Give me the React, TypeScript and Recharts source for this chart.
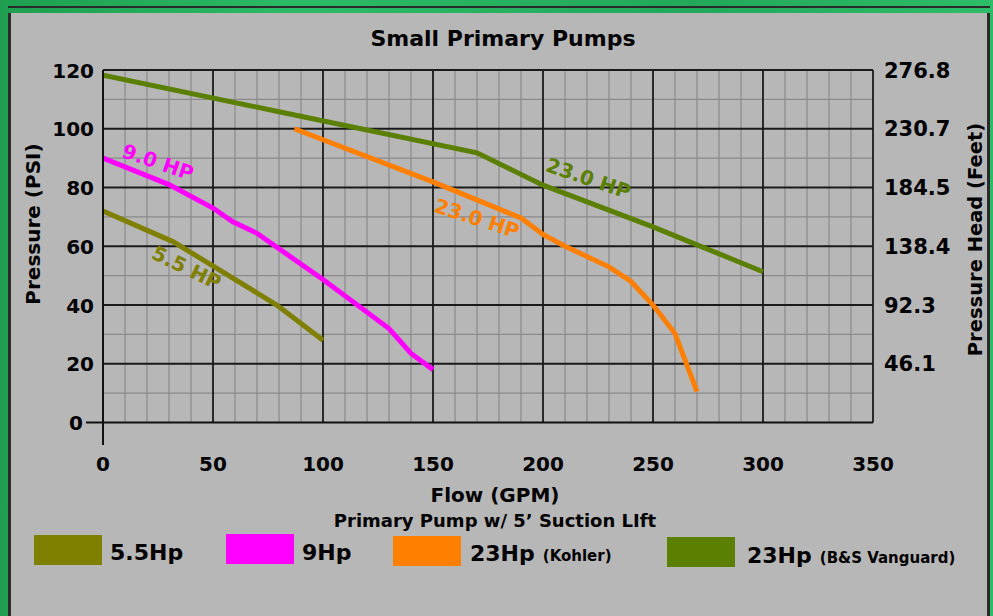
import React from "react";
import {
  LineChart,
  Line,
  XAxis,
  YAxis,
  ReferenceLine,
  ReferenceDot,
} from "recharts";

// flow (GPM) / pressure (PSI)
const flow55 = [0, 32, 79, 100];
const psi55 = [72, 61.5, 40, 28];

const flow9 = [0, 30, 50, 59, 70, 100, 130, 140, 150];
const psi9 = [90, 81, 73, 68.3, 64.4, 48.7, 32, 23.5, 18];

const flowKohler = [87, 150, 190, 200, 210, 230, 240, 250, 260, 270];
const psiKohler = [100, 81.9, 69.6, 64, 60, 53, 48, 40, 30.3, 10.5];

const flowVanguard = [0, 80, 170, 200, 250, 300];
const psiVanguard = [118.2, 105.8, 91.8, 80.8, 66.6, 51.3];

const flowTicks = [0, 50, 100, 150, 200, 250, 300, 350];
const psiTicks = [0, 20, 40, 60, 80, 100, 120];
const headTicks = [20, 40, 60, 80, 100, 120];
const headLabels = ["46.1", "92.3", "138.4", "184.5", "230.7", "276.8"];

const minorFlow = [10, 20, 30, 40, 60, 70, 80, 90, 110, 120, 130, 140, 160, 170, 180, 190, 210, 220, 230, 240, 260, 270, 280, 290, 310, 320, 330, 340];
const minorPsi = [10, 30, 50, 70, 90, 110];
const majorFlow = [50, 100, 150, 200, 250, 300, 350];
const majorPsi = [20, 40, 60, 80, 100, 120];

const zip = (xs: number[], ys: number[]) => xs.map((x, i) => ({ flow: x, psi: ys[i] }));

const series = [
  { key: "s55", name: "5.5Hp", sub: "", color: "#7f7f00", data: zip(flow55, psi55) },
  { key: "s9", name: "9Hp", sub: "", color: "#ff00ff", data: zip(flow9, psi9) },
  { key: "kohler", name: "23Hp", sub: "(Kohler)", color: "#ff7f00", data: zip(flowKohler, psiKohler) },
  { key: "vanguard", name: "23Hp", sub: "(B&S Vanguard)", color: "#5b7f00", data: zip(flowVanguard, psiVanguard) },
];

// curve captions, placed in data units
const captions = [
  { text: "9.0 HP", flow: 25, psi: 88.6, angle: 19, color: "#ff00ff" },
  { text: "5.5 HP", flow: 38, psi: 52.7, angle: 26, color: "#7f7f00" },
  { text: "23.0 HP", flow: 170, psi: 69.5, angle: 18, color: "#ff7f00" },
  { text: "23.0 HP", flow: 220.6, psi: 83.1, angle: 19, color: "#5b7f00" },
];

const FONT = "'DejaVu Sans', sans-serif";

// legend layout
const legendPos = [
  { sx: 34, sy: 535, tx: 110, ty: 560 },
  { sx: 226, sy: 534, tx: 302, ty: 560 },
  { sx: 393, sy: 536, tx: 470, ty: 561 },
  { sx: 667, sy: 537, tx: 747, ty: 563 },
];

const LeftTick = (props: any) => {
  const { x, y, payload } = props;
  const zero = payload.value === 0;
  return (
    <g>
      {zero && <line x1={x - 17} y1={y} x2={x} y2={y} stroke="#111" strokeWidth={2} />}
      <text x={zero ? x - 20 : x - 9} y={y + 7.5} textAnchor="end" fontFamily={FONT} fontWeight={700} fontSize={20} fill="#000">
        {payload.value}
      </text>
    </g>
  );
};

const RightTick = (props: any) => {
  const { x, y, payload } = props;
  const i = headTicks.indexOf(payload.value);
  if (i < 0) return <g />;
  return (
    <text x={x + 11} y={y + 7.5} textAnchor="start" fontFamily={FONT} fontWeight={700} fontSize={21} fill="#000">
      {headLabels[i]}
    </text>
  );
};

const BottomTick = (props: any) => {
  const { x, y, payload } = props;
  return (
    <g>
      {payload.value === 0 && <line x1={x} y1={y} x2={x} y2={y + 22.5} stroke="#111" strokeWidth={2} />}
      <text x={x} y={y + 48.5} textAnchor="middle" fontFamily={FONT} fontWeight={700} fontSize={20} fill="#000">
        {payload.value}
      </text>
    </g>
  );
};

export default function App() {
  return (
    <div
      style={{
        position: "fixed",
        left: 0,
        top: 0,
        width: 993,
        height: 616,
        overflow: "hidden",
        background: "linear-gradient(90deg, #1f9e50 0%, #2bbb66 30%, #23a85a 70%, #2dbd68 100%)",
      }}
    >
      <div style={{ position: "absolute", left: 8, top: 6, width: 982, height: 2, background: "#2a2a2a" }} />
      <div
        style={{
          position: "absolute",
          left: 8,
          top: 13,
          width: 976,
          height: 610,
          background: "#b7b7b7",
          borderLeft: "3px solid #2a2a2a",
          borderRight: "3px solid #2a2a2a",
        }}
      />
      <div style={{ position: "absolute", left: 0, top: 0 }}>
        <LineChart width={993} height={616} margin={{ top: 70, right: 0, bottom: 0, left: 0 }}>
          <XAxis
            type="number"
            dataKey="flow"
            domain={[0, 350]}
            ticks={flowTicks}
            height={193.5}
            tickSize={0}
            tickMargin={0}
            tickLine={false}
            axisLine={{ stroke: "#111", strokeWidth: 2 }}
            tick={BottomTick}
            allowDataOverflow
          />
          <YAxis
            yAxisId="psi"
            orientation="left"
            type="number"
            domain={[0, 120]}
            ticks={psiTicks}
            width={103}
            tickSize={0}
            tickMargin={0}
            tickLine={false}
            axisLine={{ stroke: "#111", strokeWidth: 2 }}
            tick={LeftTick}
            allowDataOverflow
          />
          <YAxis
            yAxisId="head"
            orientation="right"
            type="number"
            domain={[0, 120]}
            ticks={headTicks}
            width={120}
            tickSize={0}
            tickMargin={0}
            tickLine={false}
            axisLine={false}
            tick={RightTick}
            allowDataOverflow
          />
          {minorFlow.map((v) => (
            <ReferenceLine key={`mx${v}`} yAxisId="psi" x={v} stroke="#8a8a8a" strokeWidth={1.2} />
          ))}
          {minorPsi.map((v) => (
            <ReferenceLine key={`my${v}`} yAxisId="psi" y={v} stroke="#8a8a8a" strokeWidth={1.2} />
          ))}
          {majorFlow.map((v) => (
            <ReferenceLine key={`Mx${v}`} yAxisId="psi" x={v} stroke="#1a1a1a" strokeWidth={1.8} />
          ))}
          {majorPsi.map((v) => (
            <ReferenceLine key={`My${v}`} yAxisId="psi" y={v} stroke="#1a1a1a" strokeWidth={1.8} />
          ))}
          {/* same curve on the feet axis, invisible, so that axis gets its ticks */}
          <Line
            yAxisId="head"
            data={series[3].data}
            dataKey="psi"
            stroke="none"
            dot={false}
            activeDot={false}
            isAnimationActive={false}
          />
          {series.map((s) => (
            <Line
              key={s.key}
              yAxisId="psi"
              data={s.data}
              dataKey="psi"
              type="linear"
              stroke={s.color}
              strokeWidth={5}
              dot={false}
              activeDot={false}
              isAnimationActive={false}
            />
          ))}
          {captions.map((c, i) => (
            <ReferenceDot
              key={`cap${i}`}
              yAxisId="psi"
              x={c.flow}
              y={c.psi}
              r={1}
              shape={(p: any) => (
                <text
                  x={p.cx}
                  y={p.cy}
                  transform={`rotate(${c.angle} ${p.cx} ${p.cy})`}
                  textAnchor="middle"
                  dominantBaseline="central"
                  fontFamily={FONT}
                  fontWeight={700}
                  fontSize={20}
                  fill={c.color}
                >
                  {c.text}
                </text>
              )}
            />
          ))}
        </LineChart>
      </div>
      <svg width={993} height={616} style={{ position: "absolute", left: 0, top: 0, pointerEvents: "none" }}>
        <g fontFamily={FONT} fontWeight={700} fill="#000">
          <text x={503} y={45.5} textAnchor="middle" fontSize={22}>
            Small Primary Pumps
          </text>
          <text x={495} y={501.5} textAnchor="middle" fontSize={20}>
            Flow (GPM)
          </text>
          <text x={495} y={527} textAnchor="middle" fontSize={18}>
            Primary Pump w/ 5’ Suction LIft
          </text>
          <text transform="translate(39.5 224) rotate(-90)" textAnchor="middle" fontSize={20}>
            Pressure (PSI)
          </text>
          <text transform="translate(982 239.5) rotate(-90)" textAnchor="middle" fontSize={19.5}>
            Pressure Head (Feet)
          </text>
          {series.map((s, i) => {
            const p = legendPos[i];
            return (
              <g key={`lg${s.key}`}>
                <rect x={p.sx} y={p.sy} width={68} height={30} fill={s.color} />
                <text x={p.tx} y={p.ty} fontSize={22}>
                  {s.name}
                  {s.sub && (
                    <tspan dx={8} fontSize={15}>
                      {s.sub}
                    </tspan>
                  )}
                </text>
              </g>
            );
          })}
        </g>
      </svg>
    </div>
  );
}
